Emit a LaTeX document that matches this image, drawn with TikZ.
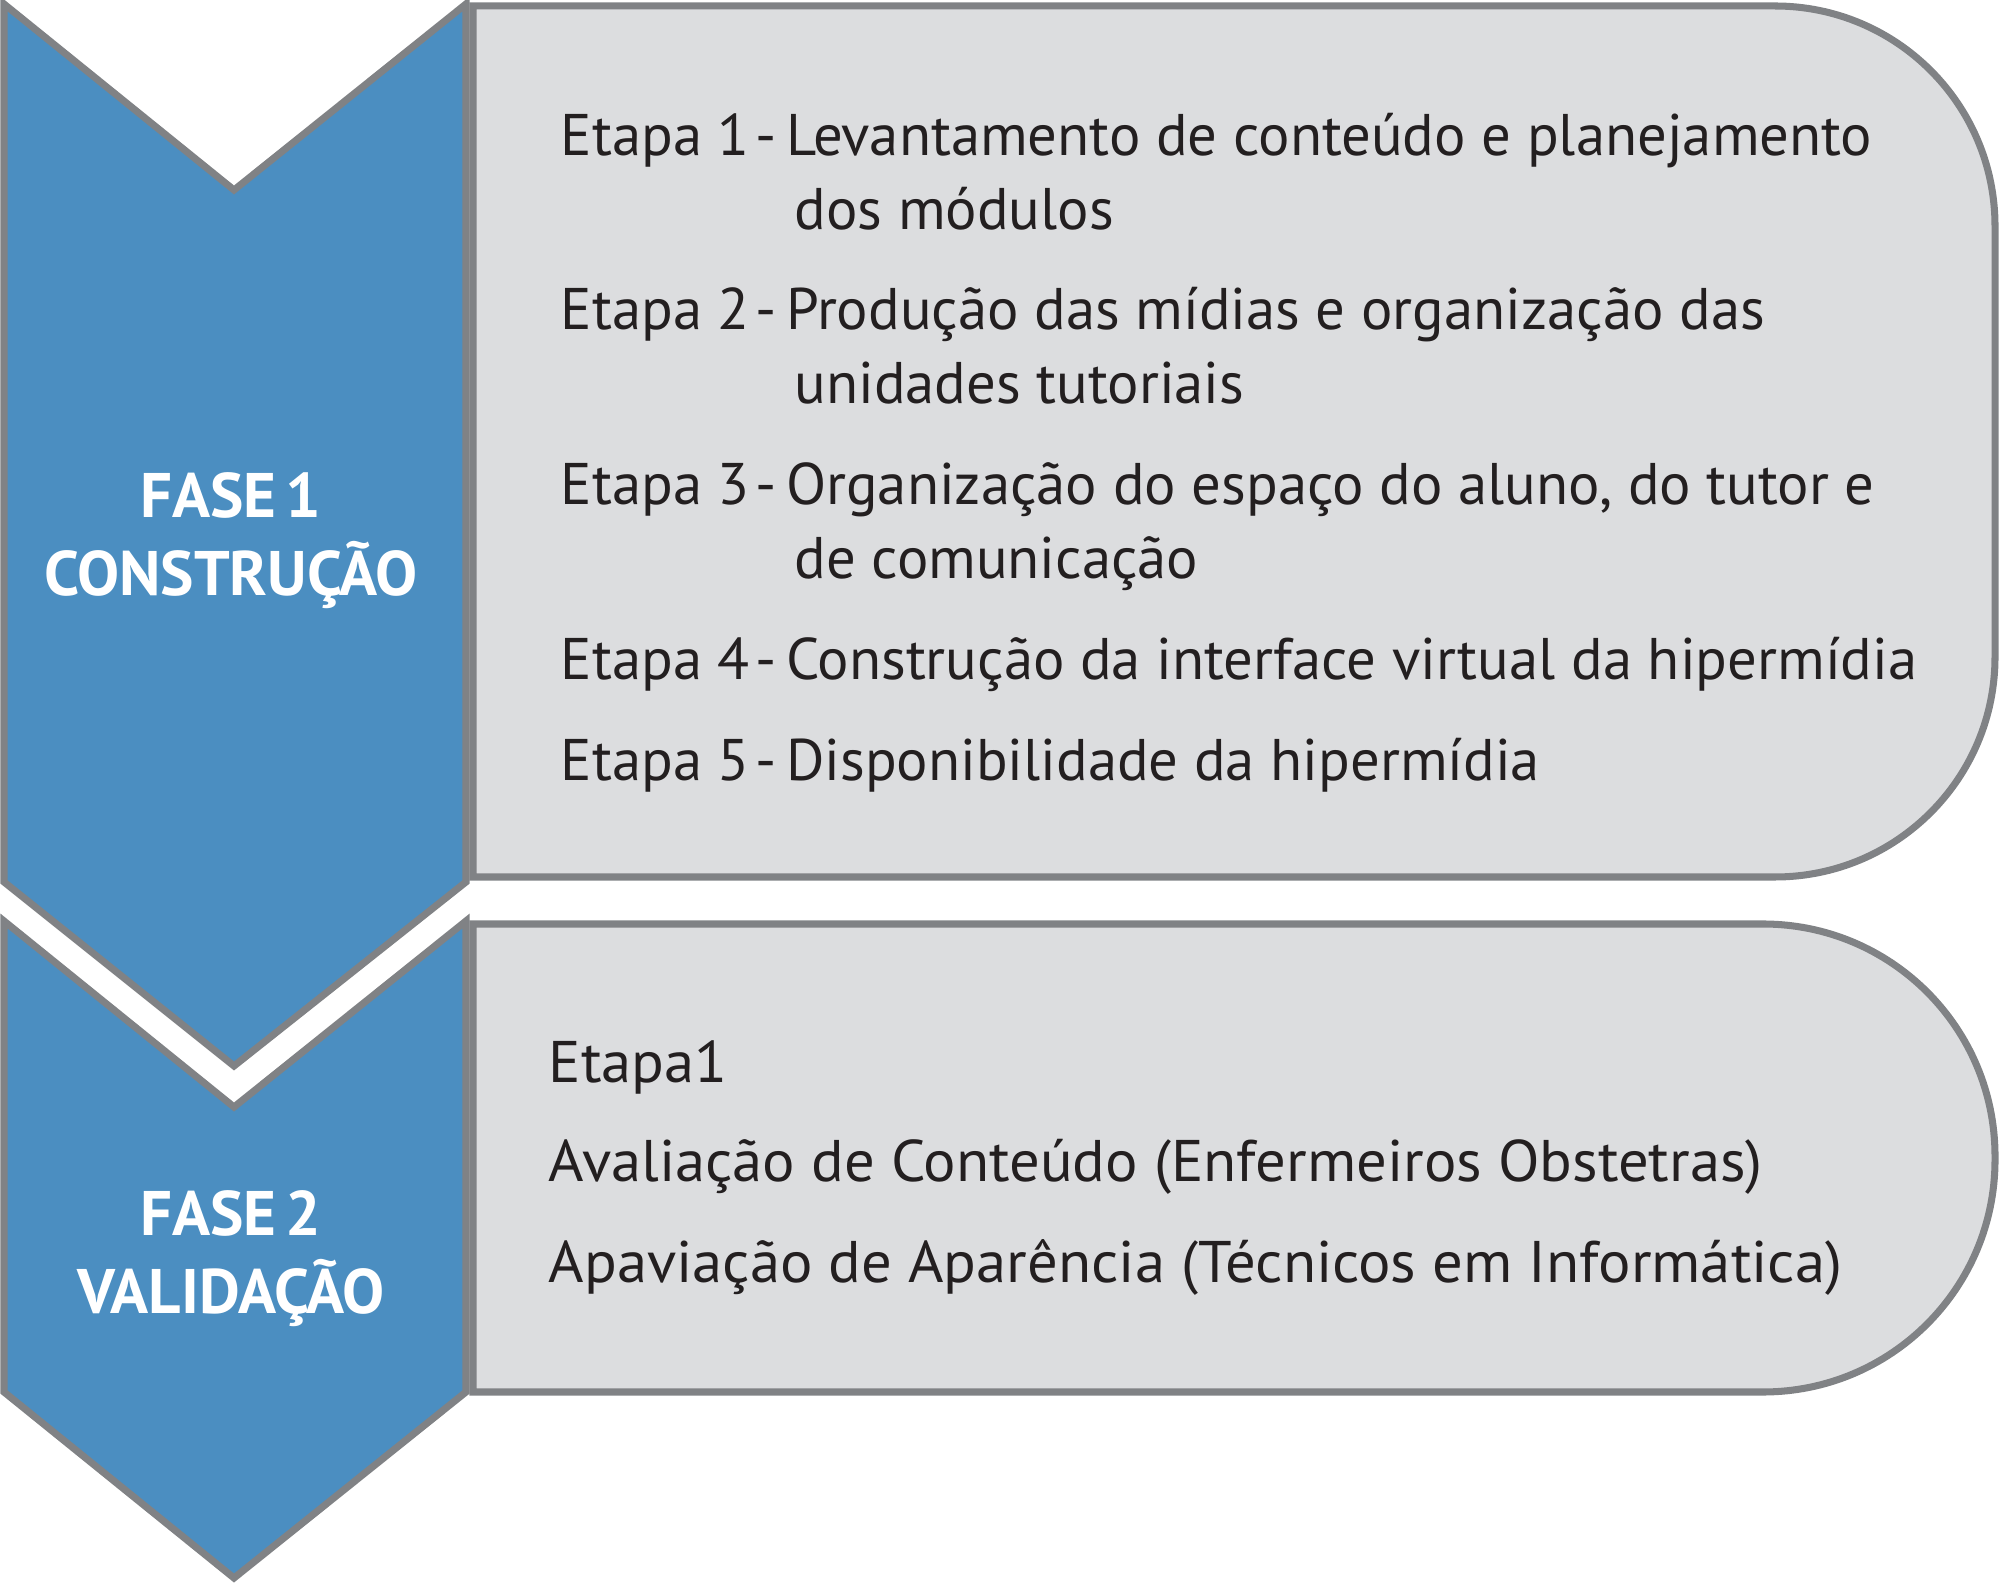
\documentclass[tikz,border=0pt]{standalone}
\usepackage{fontspec}
\setmainfont{PT Sans}
\newfontfamily\validfont[FakeStretch=1.033]{PT Sans}
\newcommand{\etapasep}{\hspace{0.09em}-\hspace{0.17em}}
\definecolor{faseblue}{RGB}{75,142,193}
\definecolor{linegray}{RGB}{128,130,133}
\definecolor{boxgray}{RGB}{220,221,223}
\definecolor{textdark}{RGB}{35,31,32}
\tikzstyle{fase} = [draw=linegray, fill=faseblue, line width=2pt, line join=miter]
\tikzstyle{stagebox} = [draw=linegray, fill=boxgray, line width=2pt]
\tikzstyle{etapa} = [anchor=base west, inner sep=0pt, text=textdark, font=\fontsize{16.7}{20}\selectfont]
\tikzstyle{valid} = [etapa, font=\validfont\fontsize{16.7}{20}\selectfont]
\tikzstyle{fasetext} = [anchor=base, inner sep=0pt, text=white, font=\bfseries\fontsize{17.9}{20}\selectfont]

\begin{document}
\begin{tikzpicture}[x=0.01cm, y=-0.01cm]
\useasboundingbox (0,0) rectangle (2000,1583);

% boxes with the steps
\draw [stagebox] (473,6) -- (1775,6) arc[start angle=-90, end angle=0, radius=220] -- (1995,657) arc[start angle=0, end angle=90, radius=220] -- (473,877) -- cycle;
\draw [stagebox] (473,924) -- (1763,924) arc[start angle=-90, end angle=0, radius=232] -- (1995,1160) arc[start angle=0, end angle=90, radius=232] -- (473,1392) -- cycle;

% phase arrows
\draw [fase] (4,4) -- (234,190) -- (466,4) -- (466,882) -- (234,1066) -- (4,882) -- cycle;
\draw [fase] (4,921) -- (234,1107) -- (466,921) -- (466,1392) -- (234,1578) -- (4,1392) -- cycle;

\node (F1) [fasetext] at (231,518) {FASE\hspace{0.15em}1};
\node (F1b) [fasetext] at (231,596) {CONSTRUÇÃO};
\node (F2) [fasetext] at (231,1235) {FASE\hspace{0.15em}2};
\node (F2b) [fasetext] at (231,1313) {VALIDAÇÃO};

\node (E1) [etapa] at (560,156) {Etapa 1\etapasep Levantamento de conteúdo e planejamento};
\node (E1b) [etapa] at (794,230) {dos módulos};
\node (E2) [etapa] at (560,330) {Etapa 2\etapasep Produção das mídias e organização das};
\node (E2b) [etapa] at (794,404) {unidades tutoriais};
\node (E3) [etapa] at (560,505) {Etapa 3\etapasep Organização do espaço do aluno, do tutor e};
\node (E3b) [etapa] at (794,579) {de comunicação};
\node (E4) [etapa] at (560,680) {Etapa 4\etapasep Construção da interface virtual da hipermídia};
\node (E5) [etapa] at (560,781) {Etapa 5\etapasep Disponibilidade da hipermídia};

\node (V1) [valid] at (548,1083) {Etapa1};
\node (V2) [valid] at (548,1182) {Avaliação de Conteúdo (Enfermeiros Obstetras)};
\node (V3) [valid] at (548,1282) {Apaviação de Aparência (Técnicos em Informática)};

\end{tikzpicture}
\end{document}
